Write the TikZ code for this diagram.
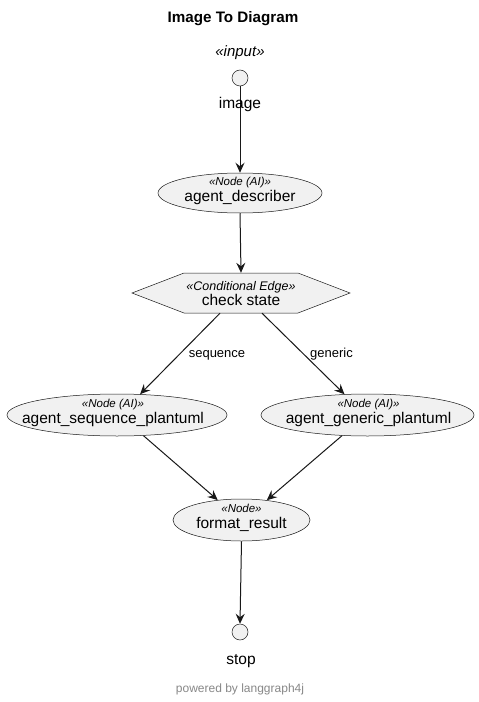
\documentclass[tikz,border=0pt]{standalone}
\usepackage{fontspec}
\setmainfont{Liberation Sans}
\usetikzlibrary{arrows.meta,shapes.geometric,calc}
\definecolor{shapefill}{HTML}{F1F1F1}
\definecolor{lineclr}{HTML}{181818}
\definecolor{footclr}{HTML}{888888}
\tikzset{
  shp/.style={draw=lineclr,line width=0.5bp,fill=shapefill},
  ell/.style={shp,ellipse,inner sep=0pt},
  dot/.style={shp,circle,inner sep=0pt,minimum size=16bp},
  conn/.style={draw=lineclr,line width=1bp,-{Stealth[length=10bp,width=9bp,inset=3.5bp]}},
  nametxt/.style={inner sep=0pt,anchor=base,font=\fontsize{15.5bp}{18bp}\selectfont},
  stereotxt/.style={inner sep=0pt,anchor=base,font=\fontsize{11.5bp}{14bp}\selectfont\itshape},
  edgetxt/.style={inner sep=0pt,anchor=base,font=\fontsize{13bp}{16bp}\selectfont},
}
\begin{document}
\begin{tikzpicture}[x=1bp,y=-1bp]
\useasboundingbox[fill=white] (0,0) rectangle (479,702);
% title
\node[inner sep=0pt,anchor=base,font=\fontsize{15.2bp}{18bp}\selectfont\bfseries] (title) at (233,23) {Image To Diagram};
% input
\node[inner sep=0pt,anchor=base,font=\fontsize{15bp}{18bp}\selectfont\itshape] (instereo) at (240,57) {«input»};
\node[dot] (in) at (240,78) {};
% describer
\node[ell,minimum width=164bp,minimum height=40bp] (desc) at (240,193) {};
% hexagon
\coordinate (hc) at (241,293);
\draw[shp] ($(hc)+(-109,0)$) -- ($(hc)+(-57,-20)$) -- ($(hc)+(57,-20)$) -- ($(hc)+(109,0)$) -- ($(hc)+(57,20)$) -- ($(hc)+(-57,20)$) -- cycle;
\node[inner sep=0pt,minimum width=218bp,minimum height=40bp] (chk) at (hc) {};
% agents
\node[ell,minimum width=220bp,minimum height=42bp] (seq) at (117,415) {};
\node[ell,minimum width=213bp,minimum height=42bp] (gen) at (367.5,415) {};
\node[ell,minimum width=137bp,minimum height=42bp] (fmt) at (241.5,520) {};
\node[dot] (stop) at (240,632) {};
% connectors
\draw[conn] (in.south) -- (desc.north);
\draw[conn] (desc.south) -- (chk.north);
\draw[conn] ($(chk.south)+(-21,0)$) -- (seq.42);
\draw[conn] ($(chk.south)+(21,0)$) -- (gen.138);
\draw[conn] (seq.-38) -- (fmt.140);
\draw[conn] (gen.-141) -- (fmt.38);
\draw[conn] (fmt.south) -- (stop.north);
% texts
\node[nametxt] (inname) at (240,109) {image};
\node[stereotxt] (descS) at ($(desc)+(0,-8)$) {«Node (AI)»};
\node[nametxt] (descN) at ($(desc)+(0,8)$) {agent\_describer};
\node[stereotxt,font=\fontsize{12.5bp}{15bp}\selectfont\itshape] (chkS) at ($(hc)+(0,-3)$) {«Conditional Edge»};
\node[nametxt] (chkN) at ($(hc)+(0,12)$) {check state};
\node[edgetxt] (lseq) at (217,357) {sequence};
\node[edgetxt] (lgen) at (331.5,357) {generic};
\node[stereotxt] (seqS) at ($(seq)+(-4,-8)$) {«Node (AI)»};
\node[nametxt] (seqN) at ($(seq)+(-4,8)$) {agent\_sequence\_plantuml};
\node[stereotxt] (genS) at ($(gen)+(1,-8)$) {«Node (AI)»};
\node[nametxt] (genN) at ($(gen)+(1,8)$) {agent\_generic\_plantuml};
\node[stereotxt] (fmtS) at ($(fmt)+(0,-8)$) {«Node»};
\node[nametxt] (fmtN) at ($(fmt)+(0,8)$) {format\_result};
\node[nametxt] (stopname) at (241,664) {stop};
\node[inner sep=0pt,anchor=base,text=footclr,font=\fontsize{12bp}{14bp}\selectfont] (foot) at (240,692) {powered by langgraph4j};
\end{tikzpicture}
\end{document}
